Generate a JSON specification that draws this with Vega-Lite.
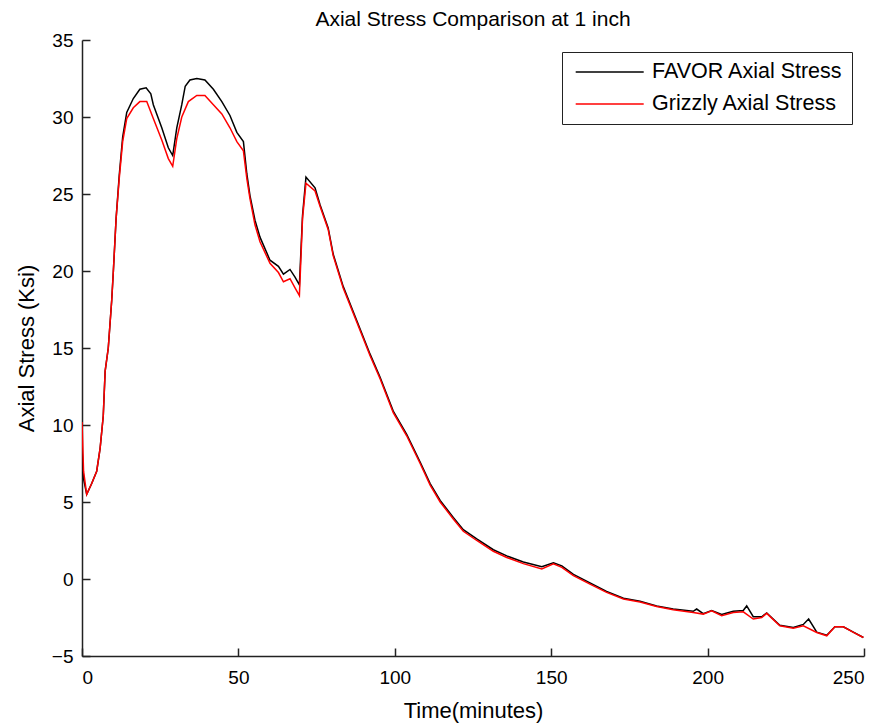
{
  "$schema": "https://vega.github.io/schema/vega-lite/v6.json",
  "width": 782,
  "height": 616,
  "autosize": {"type": "none"},
  "padding": {"left": 82, "top": 40, "right": 21, "bottom": 72},
  "background": "white",
  "config": {
    "view": {"stroke": null},
    "font": "Liberation Sans",
    "axis": {"grid": false, "domainColor": "#222", "domainWidth": 1.5, "tickColor": "#222", "tickWidth": 1.5, "labelColor": "black", "titleColor": "black", "labelFontSize": 19, "titleFontSize": 22, "titleFontWeight": "normal", "labelFont": "Liberation Sans", "titleFont": "Liberation Sans"}
  },
  "title": {"text": "Axial Stress Comparison at 1 inch", "fontSize": 21, "fontWeight": "normal", "font": "Liberation Sans", "color": "black", "anchor": "middle", "offset": 1},
  "data": {
    "values": [
      {"series": "FAVOR Axial Stress", "t": 0, "s": 8.5},
      {"series": "FAVOR Axial Stress", "t": 0.5, "s": 6.5},
      {"series": "FAVOR Axial Stress", "t": 1.5, "s": 5.5},
      {"series": "FAVOR Axial Stress", "t": 3.1, "s": 6.2},
      {"series": "FAVOR Axial Stress", "t": 4.7, "s": 7.0},
      {"series": "FAVOR Axial Stress", "t": 5.8, "s": 8.5},
      {"series": "FAVOR Axial Stress", "t": 6.8, "s": 10.6},
      {"series": "FAVOR Axial Stress", "t": 7.4, "s": 13.5},
      {"series": "FAVOR Axial Stress", "t": 8.4, "s": 15.0},
      {"series": "FAVOR Axial Stress", "t": 9.5, "s": 18.1},
      {"series": "FAVOR Axial Stress", "t": 10.0, "s": 19.9},
      {"series": "FAVOR Axial Stress", "t": 10.9, "s": 23.4},
      {"series": "FAVOR Axial Stress", "t": 11.9, "s": 26.2},
      {"series": "FAVOR Axial Stress", "t": 13.0, "s": 28.7},
      {"series": "FAVOR Axial Stress", "t": 14.3, "s": 30.3},
      {"series": "FAVOR Axial Stress", "t": 16.4, "s": 31.2},
      {"series": "FAVOR Axial Stress", "t": 18.5, "s": 31.8},
      {"series": "FAVOR Axial Stress", "t": 20.5, "s": 31.9},
      {"series": "FAVOR Axial Stress", "t": 22.0, "s": 31.5},
      {"series": "FAVOR Axial Stress", "t": 22.8, "s": 30.8},
      {"series": "FAVOR Axial Stress", "t": 25.5, "s": 29.3},
      {"series": "FAVOR Axial Stress", "t": 27.6, "s": 28.0},
      {"series": "FAVOR Axial Stress", "t": 29.0, "s": 27.5},
      {"series": "FAVOR Axial Stress", "t": 30.3, "s": 29.3},
      {"series": "FAVOR Axial Stress", "t": 31.9, "s": 30.8},
      {"series": "FAVOR Axial Stress", "t": 33.0, "s": 32.0},
      {"series": "FAVOR Axial Stress", "t": 34.5, "s": 32.4},
      {"series": "FAVOR Axial Stress", "t": 36.7, "s": 32.5},
      {"series": "FAVOR Axial Stress", "t": 39.3, "s": 32.4},
      {"series": "FAVOR Axial Stress", "t": 42.0, "s": 31.8},
      {"series": "FAVOR Axial Stress", "t": 44.7, "s": 31.0},
      {"series": "FAVOR Axial Stress", "t": 47.3, "s": 30.1},
      {"series": "FAVOR Axial Stress", "t": 49.5, "s": 29.0},
      {"series": "FAVOR Axial Stress", "t": 51.6, "s": 28.4},
      {"series": "FAVOR Axial Stress", "t": 52.7, "s": 26.3},
      {"series": "FAVOR Axial Stress", "t": 53.7, "s": 24.9},
      {"series": "FAVOR Axial Stress", "t": 55.3, "s": 23.3},
      {"series": "FAVOR Axial Stress", "t": 56.9, "s": 22.2},
      {"series": "FAVOR Axial Stress", "t": 60.1, "s": 20.7},
      {"series": "FAVOR Axial Stress", "t": 62.8, "s": 20.3},
      {"series": "FAVOR Axial Stress", "t": 64.4, "s": 19.8},
      {"series": "FAVOR Axial Stress", "t": 66.5, "s": 20.1},
      {"series": "FAVOR Axial Stress", "t": 68.1, "s": 19.6},
      {"series": "FAVOR Axial Stress", "t": 69.5, "s": 19.1},
      {"series": "FAVOR Axial Stress", "t": 70.5, "s": 23.6},
      {"series": "FAVOR Axial Stress", "t": 71.6, "s": 26.1},
      {"series": "FAVOR Axial Stress", "t": 74.5, "s": 25.4},
      {"series": "FAVOR Axial Stress", "t": 76.1, "s": 24.3},
      {"series": "FAVOR Axial Stress", "t": 78.7, "s": 22.8},
      {"series": "FAVOR Axial Stress", "t": 80.3, "s": 21.1},
      {"series": "FAVOR Axial Stress", "t": 83.5, "s": 19.0},
      {"series": "FAVOR Axial Stress", "t": 87.8, "s": 16.8},
      {"series": "FAVOR Axial Stress", "t": 92.1, "s": 14.6},
      {"series": "FAVOR Axial Stress", "t": 95.3, "s": 13.1},
      {"series": "FAVOR Axial Stress", "t": 99.5, "s": 10.9},
      {"series": "FAVOR Axial Stress", "t": 103.8, "s": 9.4},
      {"series": "FAVOR Axial Stress", "t": 108.1, "s": 7.6},
      {"series": "FAVOR Axial Stress", "t": 111.3, "s": 6.2},
      {"series": "FAVOR Axial Stress", "t": 114.5, "s": 5.1},
      {"series": "FAVOR Axial Stress", "t": 118.7, "s": 4.0},
      {"series": "FAVOR Axial Stress", "t": 121.9, "s": 3.2},
      {"series": "FAVOR Axial Stress", "t": 126.2, "s": 2.6},
      {"series": "FAVOR Axial Stress", "t": 131.5, "s": 1.9},
      {"series": "FAVOR Axial Stress", "t": 135.8, "s": 1.5},
      {"series": "FAVOR Axial Stress", "t": 141.1, "s": 1.1},
      {"series": "FAVOR Axial Stress", "t": 147.0, "s": 0.8},
      {"series": "FAVOR Axial Stress", "t": 150.7, "s": 1.05},
      {"series": "FAVOR Axial Stress", "t": 153.4, "s": 0.85},
      {"series": "FAVOR Axial Stress", "t": 157.1, "s": 0.3},
      {"series": "FAVOR Axial Stress", "t": 162.4, "s": -0.25},
      {"series": "FAVOR Axial Stress", "t": 167.7, "s": -0.8},
      {"series": "FAVOR Axial Stress", "t": 173.1, "s": -1.25},
      {"series": "FAVOR Axial Stress", "t": 178.4, "s": -1.45},
      {"series": "FAVOR Axial Stress", "t": 183.7, "s": -1.75},
      {"series": "FAVOR Axial Stress", "t": 189.0, "s": -1.95},
      {"series": "FAVOR Axial Stress", "t": 195.4, "s": -2.1},
      {"series": "FAVOR Axial Stress", "t": 196.5, "s": -1.95},
      {"series": "FAVOR Axial Stress", "t": 198.6, "s": -2.25},
      {"series": "FAVOR Axial Stress", "t": 201.3, "s": -2.05},
      {"series": "FAVOR Axial Stress", "t": 204.5, "s": -2.3},
      {"series": "FAVOR Axial Stress", "t": 208.2, "s": -2.1},
      {"series": "FAVOR Axial Stress", "t": 211.4, "s": -2.05},
      {"series": "FAVOR Axial Stress", "t": 212.5, "s": -1.75},
      {"series": "FAVOR Axial Stress", "t": 214.6, "s": -2.45},
      {"series": "FAVOR Axial Stress", "t": 217.3, "s": -2.45},
      {"series": "FAVOR Axial Stress", "t": 218.9, "s": -2.2},
      {"series": "FAVOR Axial Stress", "t": 223.1, "s": -3.0},
      {"series": "FAVOR Axial Stress", "t": 227.4, "s": -3.15},
      {"series": "FAVOR Axial Stress", "t": 230.6, "s": -2.95},
      {"series": "FAVOR Axial Stress", "t": 232.3, "s": -2.6},
      {"series": "FAVOR Axial Stress", "t": 234.9, "s": -3.45},
      {"series": "FAVOR Axial Stress", "t": 238.1, "s": -3.65},
      {"series": "FAVOR Axial Stress", "t": 240.7, "s": -3.1},
      {"series": "FAVOR Axial Stress", "t": 243.4, "s": -3.1},
      {"series": "FAVOR Axial Stress", "t": 246.6, "s": -3.45},
      {"series": "FAVOR Axial Stress", "t": 249.8, "s": -3.8},
      {"series": "Grizzly Axial Stress", "t": 0, "s": 10.2},
      {"series": "Grizzly Axial Stress", "t": 0.5, "s": 7.0},
      {"series": "Grizzly Axial Stress", "t": 1.5, "s": 5.5},
      {"series": "Grizzly Axial Stress", "t": 3.1, "s": 6.2},
      {"series": "Grizzly Axial Stress", "t": 4.7, "s": 7.0},
      {"series": "Grizzly Axial Stress", "t": 5.8, "s": 8.5},
      {"series": "Grizzly Axial Stress", "t": 6.8, "s": 10.6},
      {"series": "Grizzly Axial Stress", "t": 7.4, "s": 13.5},
      {"series": "Grizzly Axial Stress", "t": 8.4, "s": 15.0},
      {"series": "Grizzly Axial Stress", "t": 9.5, "s": 18.1},
      {"series": "Grizzly Axial Stress", "t": 10.0, "s": 19.9},
      {"series": "Grizzly Axial Stress", "t": 10.9, "s": 23.4},
      {"series": "Grizzly Axial Stress", "t": 11.9, "s": 26.0},
      {"series": "Grizzly Axial Stress", "t": 13.0, "s": 28.4},
      {"series": "Grizzly Axial Stress", "t": 14.3, "s": 29.9},
      {"series": "Grizzly Axial Stress", "t": 16.4, "s": 30.6},
      {"series": "Grizzly Axial Stress", "t": 18.5, "s": 31.0},
      {"series": "Grizzly Axial Stress", "t": 20.7, "s": 31.0},
      {"series": "Grizzly Axial Stress", "t": 22.8, "s": 29.9},
      {"series": "Grizzly Axial Stress", "t": 25.5, "s": 28.5},
      {"series": "Grizzly Axial Stress", "t": 27.6, "s": 27.3},
      {"series": "Grizzly Axial Stress", "t": 29.0, "s": 26.8},
      {"series": "Grizzly Axial Stress", "t": 30.3, "s": 28.6},
      {"series": "Grizzly Axial Stress", "t": 31.9, "s": 30.0},
      {"series": "Grizzly Axial Stress", "t": 34.0, "s": 31.0},
      {"series": "Grizzly Axial Stress", "t": 36.7, "s": 31.4},
      {"series": "Grizzly Axial Stress", "t": 39.3, "s": 31.4},
      {"series": "Grizzly Axial Stress", "t": 42.0, "s": 30.8},
      {"series": "Grizzly Axial Stress", "t": 44.7, "s": 30.2},
      {"series": "Grizzly Axial Stress", "t": 47.3, "s": 29.3},
      {"series": "Grizzly Axial Stress", "t": 49.5, "s": 28.4},
      {"series": "Grizzly Axial Stress", "t": 51.6, "s": 27.8},
      {"series": "Grizzly Axial Stress", "t": 52.7, "s": 26.0},
      {"series": "Grizzly Axial Stress", "t": 53.7, "s": 24.7},
      {"series": "Grizzly Axial Stress", "t": 55.3, "s": 23.0},
      {"series": "Grizzly Axial Stress", "t": 56.9, "s": 21.9},
      {"series": "Grizzly Axial Stress", "t": 60.1, "s": 20.5},
      {"series": "Grizzly Axial Stress", "t": 62.8, "s": 19.9},
      {"series": "Grizzly Axial Stress", "t": 64.4, "s": 19.3},
      {"series": "Grizzly Axial Stress", "t": 66.5, "s": 19.5},
      {"series": "Grizzly Axial Stress", "t": 68.1, "s": 18.9},
      {"series": "Grizzly Axial Stress", "t": 69.5, "s": 18.4},
      {"series": "Grizzly Axial Stress", "t": 70.5, "s": 23.4},
      {"series": "Grizzly Axial Stress", "t": 71.6, "s": 25.7},
      {"series": "Grizzly Axial Stress", "t": 74.5, "s": 25.2},
      {"series": "Grizzly Axial Stress", "t": 76.1, "s": 24.2},
      {"series": "Grizzly Axial Stress", "t": 78.7, "s": 22.7},
      {"series": "Grizzly Axial Stress", "t": 80.3, "s": 21.0},
      {"series": "Grizzly Axial Stress", "t": 83.5, "s": 18.9},
      {"series": "Grizzly Axial Stress", "t": 87.8, "s": 16.7},
      {"series": "Grizzly Axial Stress", "t": 92.1, "s": 14.5},
      {"series": "Grizzly Axial Stress", "t": 95.3, "s": 13.0},
      {"series": "Grizzly Axial Stress", "t": 99.5, "s": 10.8},
      {"series": "Grizzly Axial Stress", "t": 103.8, "s": 9.3},
      {"series": "Grizzly Axial Stress", "t": 108.1, "s": 7.5},
      {"series": "Grizzly Axial Stress", "t": 111.3, "s": 6.1},
      {"series": "Grizzly Axial Stress", "t": 114.5, "s": 5.0},
      {"series": "Grizzly Axial Stress", "t": 118.7, "s": 3.9},
      {"series": "Grizzly Axial Stress", "t": 121.9, "s": 3.1},
      {"series": "Grizzly Axial Stress", "t": 126.2, "s": 2.5},
      {"series": "Grizzly Axial Stress", "t": 131.5, "s": 1.8},
      {"series": "Grizzly Axial Stress", "t": 135.8, "s": 1.4},
      {"series": "Grizzly Axial Stress", "t": 141.1, "s": 1.0},
      {"series": "Grizzly Axial Stress", "t": 147.0, "s": 0.65},
      {"series": "Grizzly Axial Stress", "t": 150.7, "s": 0.98},
      {"series": "Grizzly Axial Stress", "t": 153.4, "s": 0.76},
      {"series": "Grizzly Axial Stress", "t": 157.1, "s": 0.22},
      {"series": "Grizzly Axial Stress", "t": 162.4, "s": -0.33},
      {"series": "Grizzly Axial Stress", "t": 167.7, "s": -0.87},
      {"series": "Grizzly Axial Stress", "t": 173.1, "s": -1.3},
      {"series": "Grizzly Axial Stress", "t": 178.4, "s": -1.5},
      {"series": "Grizzly Axial Stress", "t": 183.7, "s": -1.78},
      {"series": "Grizzly Axial Stress", "t": 189.0, "s": -2.0},
      {"series": "Grizzly Axial Stress", "t": 195.4, "s": -2.17},
      {"series": "Grizzly Axial Stress", "t": 198.6, "s": -2.28},
      {"series": "Grizzly Axial Stress", "t": 201.3, "s": -2.06},
      {"series": "Grizzly Axial Stress", "t": 204.5, "s": -2.38},
      {"series": "Grizzly Axial Stress", "t": 208.2, "s": -2.17},
      {"series": "Grizzly Axial Stress", "t": 211.4, "s": -2.13},
      {"series": "Grizzly Axial Stress", "t": 214.6, "s": -2.6},
      {"series": "Grizzly Axial Stress", "t": 217.3, "s": -2.5},
      {"series": "Grizzly Axial Stress", "t": 218.9, "s": -2.23},
      {"series": "Grizzly Axial Stress", "t": 223.1, "s": -3.04},
      {"series": "Grizzly Axial Stress", "t": 227.4, "s": -3.2},
      {"series": "Grizzly Axial Stress", "t": 230.6, "s": -3.04},
      {"series": "Grizzly Axial Stress", "t": 234.9, "s": -3.47},
      {"series": "Grizzly Axial Stress", "t": 238.1, "s": -3.69},
      {"series": "Grizzly Axial Stress", "t": 240.7, "s": -3.1},
      {"series": "Grizzly Axial Stress", "t": 243.4, "s": -3.1},
      {"series": "Grizzly Axial Stress", "t": 246.6, "s": -3.47},
      {"series": "Grizzly Axial Stress", "t": 249.8, "s": -3.8}
    ]
  },
  "mark": {"type": "line", "strokeWidth": 1.5, "clip": true},
  "encoding": {
    "x": {"field": "t", "type": "quantitative", "title": "Time(minutes)",
      "scale": {"domain": [0, 250], "nice": false, "zero": false},
      "axis": {"values": [0, 50, 100, 150, 200, 250], "tickSize": -8, "labelPadding": 20, "titlePadding": 13}},
    "y": {"field": "s", "type": "quantitative", "title": "Axial Stress (Ksi)",
      "scale": {"domain": [-5, 35], "nice": false, "zero": false},
      "axis": {"values": [-5, 0, 5, 10, 15, 20, 25, 30, 35], "tickSize": -8, "labelPadding": 17, "titlePadding": 13}},
    "color": {"field": "series", "type": "nominal",
      "scale": {"domain": ["FAVOR Axial Stress", "Grizzly Axial Stress"], "range": ["black", "#ff0000"]},
      "legend": {"title": null, "orient": "top-right", "offset": 12, "strokeColor": "#222", "fillColor": "white", "padding": 9,
        "symbolType": "M-0.63,0H6.17", "symbolSize": 400, "symbolStrokeWidth": 1.5,
        "labelFontSize": 21.5, "labelFont": "Liberation Sans", "labelColor": "black", "labelOffset": 59, "rowPadding": 10, "labelLimit": 300}}
  }
}
